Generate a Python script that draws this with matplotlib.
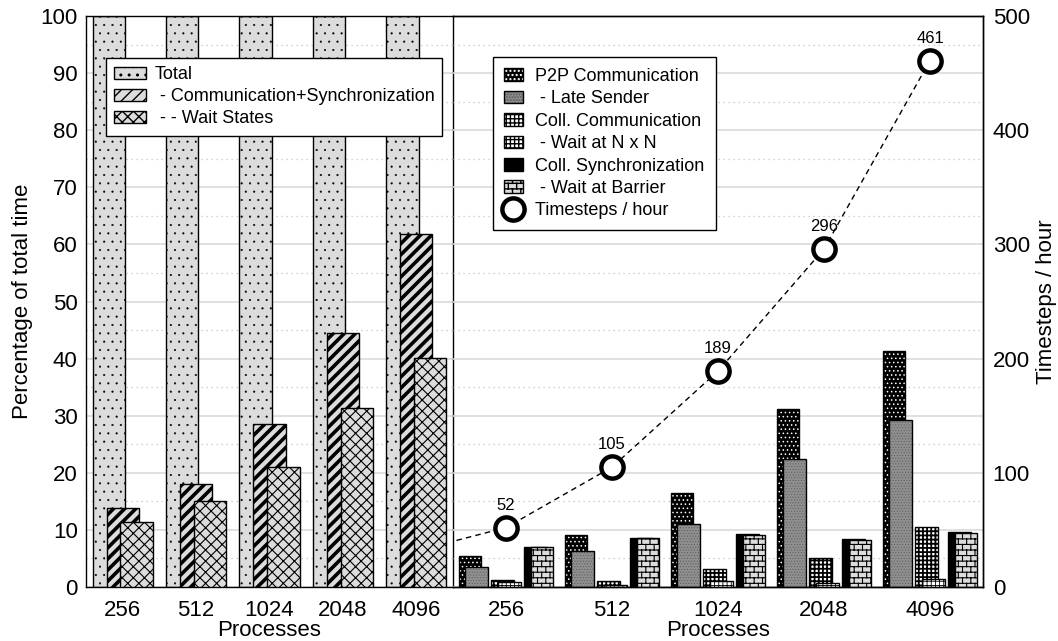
import warnings
import numpy as np
import matplotlib
matplotlib.use('Agg')
import matplotlib.pyplot as plt
import matplotlib.hatch as mhatch
from matplotlib.path import Path
from matplotlib.patches import Patch
from matplotlib.lines import Line2D
from matplotlib.ticker import MultipleLocator

warnings.filterwarnings('ignore')

processes = ['256', '512', '1024', '2048', '4096']

# left block: share of total time (%)
total = [100, 100, 100, 100, 100]
comm_sync = [13.8, 18.0, 28.5, 44.5, 61.8]
wait_states = [11.4, 15.1, 21.0, 31.3, 40.1]

# right block: breakdown of communication / synchronization (%)
p2p_comm = [5.4, 9.1, 16.5, 31.1, 41.3]
late_sender = [3.5, 6.3, 11.1, 22.4, 29.3]
coll_comm = [1.2, 1.1, 3.1, 5.0, 10.5]
wait_nxn = [0.8, 0.3, 1.0, 0.7, 1.4]
coll_sync = [7.0, 8.5, 9.3, 8.4, 9.6]
wait_barrier = [7.0, 8.5, 9.1, 8.3, 9.5]

# throughput, with the point before 256 that the line runs in from
timesteps_prev = 28
timesteps_per_hour = [52, 105, 189, 296, 461]


class BrickHatch(mhatch.HatchPatternBase):
    """Staggered brick courses, picked with the letter 'b'."""

    def __init__(self, hatch, density):
        self.rows = hatch.count('b') * density
        self.cols = (2 * self.rows) // 3
        self.num_vertices = self.rows * (2 + 2 * self.cols)

    def set_vertices_and_codes(self, vertices, codes):
        h = 1.0 / self.rows
        w = 1.0 / self.cols
        pts = []
        for r in range(self.rows):
            y = r * h
            pts += [(0.0, y), (1.0, y)]
            shift = w / 2 if r % 2 else 0.0
            for c in range(self.cols):
                x = c * w + shift
                pts += [(x, y), (x, y + h)]
        vertices[:] = pts
        codes[0::2] = Path.MOVETO
        codes[1::2] = Path.LINETO


mhatch._hatch_types.append(BrickHatch)

plt.rcParams['font.family'] = ['Liberation Sans', 'DejaVu Sans']
plt.rcParams['font.size'] = 16


def set_hlw(patch, lw):
    if hasattr(patch, 'set_hatch_linewidth'):
        patch.set_hatch_linewidth(lw)


def pattern_bar(ax, x, h, width, face, hatch=None, hcolor='black', hlw=1.0, z=2):
    # fill + hatch first, then a plain black outline on top
    fill = ax.bar(x, h, width, color=face, edgecolor=hcolor, hatch=hatch,
                  linewidth=0, zorder=z)
    for p in fill:
        set_hlw(p, hlw)
    ax.bar(x, h, width, fill=False, edgecolor='black', linewidth=1.0, zorder=z)
    key_fill = Patch(facecolor=face, edgecolor=hcolor, hatch=hatch, linewidth=0)
    set_hlw(key_fill, hlw)
    key_edge = Patch(fill=False, edgecolor='black', linewidth=1.0)
    return (key_fill, key_edge)


fig = plt.figure(figsize=(10.58, 6.41), dpi=100)
ax_l = fig.add_axes([86 / 1058, 54 / 641, 367 / 1058, 571 / 641])
ax_r = fig.add_axes([453 / 1058, 54 / 641, 530 / 1058, 571 / 641], sharey=ax_l)
ax_r.patch.set_visible(False)

for ax in (ax_l, ax_r):
    ax.set_xlim(-0.5, 4.5)
    ax.set_ylim(0, 100)
    ax.yaxis.set_major_locator(MultipleLocator(10))
    ax.yaxis.set_minor_locator(MultipleLocator(5))
    ax.grid(which='major', axis='y', color='#dadada', linewidth=1.2)
    ax.grid(which='minor', axis='y', color='#c4c4c4', linestyle=(0, (1, 3)), linewidth=0.9)
    ax.set_axisbelow(True)
    ax.set_xticks(range(len(processes)))
    ax.set_xticklabels(processes)
    ax.tick_params(which='both', length=0, labelsize=16)
    ax.tick_params(axis='x', pad=9)
    ax.set_xlabel('Processes', fontsize=16, labelpad=0)
    for s in ax.spines.values():
        s.set_linewidth(1.0)

ax_l.tick_params(axis='y', pad=6)
ax_r.tick_params(axis='y', which='both', left=False, labelleft=False)
ax_r.spines['left'].set_visible(False)

# ---- left block ----
x = np.arange(len(processes))
wl = 0.44
h_total = pattern_bar(ax_l, x - 0.19, total, wl, '#dcdcdc', '..', hlw=0.3, z=2)
h_comm = pattern_bar(ax_l, x, comm_sync, wl, '#dcdcdc', '///', hlw=2.6, z=3)
h_wait = pattern_bar(ax_l, x + 0.19, wait_states, wl, '#dcdcdc', 'xxx', hlw=0.8, z=4)
ax_l.set_ylabel('Percentage of total time', fontsize=16, labelpad=5)

leg_l = ax_l.legend([h_total, h_comm, h_wait],
                    ['Total', ' - Communication+Synchronization', ' - - Wait States'],
                    loc='upper left', bbox_to_anchor=(0.054, 0.926), borderaxespad=0,
                    fontsize=13, handlelength=1.8, handleheight=0.7, handletextpad=0.45,
                    labelspacing=0.28, borderpad=0.45, fancybox=False, framealpha=1,
                    edgecolor='black')
leg_l.get_frame().set_linewidth(1.0)

# ---- right block ----
wr = 0.215
pair = [-0.31, 0.0, 0.31]
d = 0.03
h_p2p = pattern_bar(ax_r, x + pair[0] - d, p2p_comm, wr, 'black', '....', hcolor='white', hlw=0.6, z=2)
h_late = pattern_bar(ax_r, x + pair[0] + d, late_sender, wr, '#8f8f8f', '......', hcolor='#5a5a5a', hlw=0.4, z=3)
h_cc = pattern_bar(ax_r, x + pair[1] - d, coll_comm, wr, 'white', '++++', hlw=1.3, z=2)
h_nxn = pattern_bar(ax_r, x + pair[1] + d, wait_nxn, wr, 'white', '++++', hlw=0.6, z=3)
h_cs = pattern_bar(ax_r, x + pair[2] - d, coll_sync, wr, 'black', None, z=2)
h_bar = pattern_bar(ax_r, x + pair[2] + d, wait_barrier, wr, '#dcdcdc', 'bbb', hlw=0.8, z=3)

ax_t = ax_r.twinx()
ax_t.set_ylim(0, 500)
ax_t.set_yticks(range(0, 501, 100))
ax_t.tick_params(length=0, labelsize=16, pad=7)
ax_t.spines['left'].set_visible(False)
for s in ax_t.spines.values():
    s.set_linewidth(1.0)
ax_t.set_ylabel('Timesteps / hour', fontsize=16, labelpad=4)

ax_t.plot(np.arange(-1, len(processes)), [timesteps_prev] + timesteps_per_hour,
          linestyle=(0, (4, 3)), color='black', linewidth=1.0, zorder=3)
ax_t.plot(x, timesteps_per_hour, linestyle='none', marker='o', markersize=16,
          markerfacecolor='white', markeredgecolor='black', markeredgewidth=3.2, zorder=4)
for xi, v in zip(x, timesteps_per_hour):
    ax_t.annotate(str(v), (xi, v), xytext=(0, 16), textcoords='offset points',
                  ha='center', va='center', fontsize=12)

h_rate = Line2D([], [], linestyle='none', marker='o', markersize=16,
                markerfacecolor='white', markeredgecolor='black', markeredgewidth=3.2)
leg_r = ax_t.legend([h_p2p, h_late, h_cc, h_nxn, h_cs, h_bar, h_rate],
                    ['P2P Communication', ' - Late Sender', 'Coll. Communication',
                     ' - Wait at N x N', 'Coll. Synchronization', ' - Wait at Barrier',
                     'Timesteps / hour'],
                    loc='upper left', bbox_to_anchor=(0.0755, 0.928), borderaxespad=0,
                    fontsize=13, handlelength=1.05, handleheight=0.7, handletextpad=0.7,
                    labelspacing=0.3, borderpad=0.6, fancybox=False, framealpha=1,
                    edgecolor='black')
leg_r.get_frame().set_linewidth(1.0)

fig.savefig('out.png', dpi=100)
